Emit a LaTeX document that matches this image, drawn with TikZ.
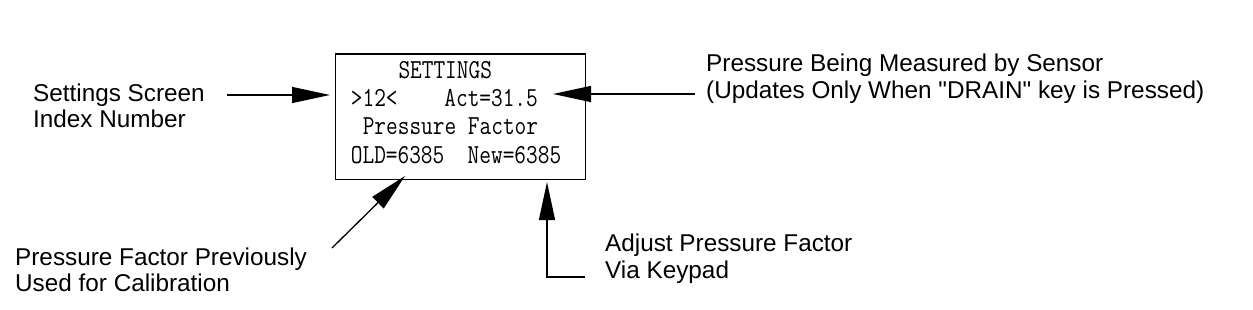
\documentclass[tikz,border=0pt]{standalone}
\usepackage{fontspec}
\setmainfont{Liberation Sans}[Ligatures=TeXOff]
\usetikzlibrary{arrows.meta}
\begin{document}
\begin{tikzpicture}[x=1pt,y=-1pt,
  lbl/.style={font=\fontsize{24.3}{26.6}\selectfont, align=left, inner sep=0pt, anchor=base west},
  lcd/.style={font=\ttfamily\fontsize{26.2}{28}\selectfont, inner sep=0pt, anchor=base west},
  ptr/.style={line width=1.3pt, -{Triangle[length=38pt,width=16pt]}},
]
\useasboundingbox (0,0) rectangle (1253,310);
\node[draw, line width=1.4pt, minimum width=250pt, minimum height=125.5pt, anchor=north west, inner sep=0pt] (box) at (335,53.3) {};
% LCD text
\node[lcd] (t1) at (398.3,78.3) {\scalebox{0.866}[1.05]{SETTINGS}};
\node[lcd] (t2) at (350.7,106.7) {\scalebox{0.866}[1.05]{>12<~~~~Act=31.5}};
\node[lcd] (t3) at (362.6,135) {\scalebox{0.866}[1.05]{Pressure Factor}};
\node[lcd] (t4) at (350.7,163.3) {\scalebox{0.866}[1.05]{OLD=6385~~New=6385}};
% labels (anchored at the baseline of the last line)
\node[lbl] (l1) at (33,128) {Settings Screen\\Index Number};
\node[lbl] (l2) at (706,98.3) {Pressure Being Measured by Sensor\\(Updates Only When "DRAIN" key is Pressed)};
\node[lbl] (l3) at (15,291.7) {Pressure Factor Previously\\Used for Calibration};
\node[lbl] (l4) at (605,278.3) {Adjust Pressure Factor\\Via Keypad};
% connectors
\coordinate (a1s) at (227,95);
\coordinate (a1e) at (330,95);
\coordinate (a2s) at (695,94);
\coordinate (a2e) at (553,94);
\coordinate (a3s) at (332,248);
\coordinate (a3e) at (405,176);
\coordinate (a4s) at (585,277);
\coordinate (a4c) at (547,277);
\coordinate (a4e) at (547,182);
\draw[ptr] (a1s) -- (a1e);
\draw[ptr] (a2s) -- (a2e);
\draw[ptr] (a3s) -- (a3e);
\draw[ptr] (a4s) -- (a4c) -- (a4e);
\end{tikzpicture}
\end{document}
